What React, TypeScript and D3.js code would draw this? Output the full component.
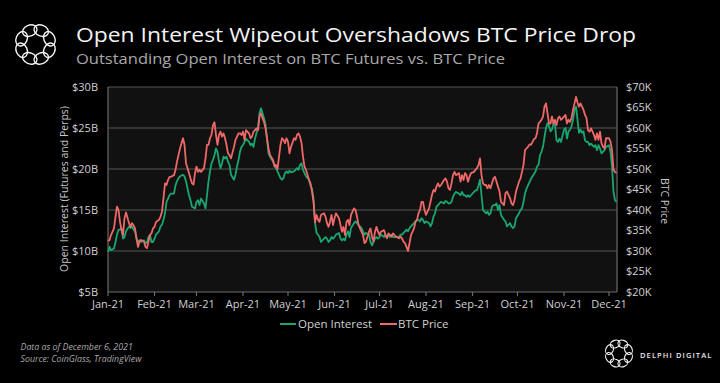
import React from "react";
import * as d3 from "d3";

// ---- Data ----
const dates: string[] = [
  // Jan
  "01-01","01-02","01-03","01-05","01-06","01-07","01-08","01-09","01-10","01-11","01-12","01-13","01-15","01-16","01-17","01-18","01-19","01-20","01-21","01-22","01-23","01-25","01-26","01-27","01-28","01-29","01-30","01-31",
  // Feb
  "02-01","02-02","02-04","02-05","02-06","02-07","02-08","02-09","02-10","02-11","02-12","02-14","02-15","02-16","02-17","02-18","02-19","02-20","02-21","02-22","02-24","02-25","02-26","02-27","02-28",
  // Mar
  "03-01","03-02","03-03","03-04","03-06","03-07","03-08","03-09","03-10","03-11","03-12","03-13","03-14","03-15","03-16","03-17","03-18","03-19","03-20","03-21","03-22","03-23","03-24","03-26","03-27","03-28","03-29","03-30","03-31",
  // Apr
  "04-01","04-02","04-03","04-05","04-06","04-07","04-08","04-09","04-10","04-11","04-12","04-13","04-14","04-15","04-16","04-17","04-18","04-19","04-21","04-22","04-23","04-24","04-26","04-27","04-28","04-29","04-30",
  // May
  "05-01","05-02","05-03","05-05","05-06","05-07","05-08","05-09","05-10","05-11","05-12","05-13","05-15","05-16","05-17","05-18","05-19","05-20","05-21","05-22","05-23","05-25","05-26","05-27","05-28","05-29","05-30","05-31",
  // Jun
  "06-01","06-02","06-04","06-05","06-06","06-07","06-08","06-09","06-10","06-11","06-12","06-14","06-15","06-16","06-17","06-18","06-19","06-20","06-21","06-22","06-24","06-25","06-26","06-27","06-28","06-29","06-30",
  // Jul
  "07-01","07-02","07-04","07-05","07-06","07-07","07-08","07-09","07-10","07-11","07-12","07-14","07-15","07-16","07-17","07-18","07-19","07-20","07-21","07-22","07-24","07-25","07-26","07-27","07-28","07-29","07-30","07-31",
  // Aug
  "08-01","08-03","08-04","08-05","08-06","08-07","08-08","08-09","08-10","08-11","08-13","08-14","08-15","08-16","08-17","08-18","08-19","08-20","08-21","08-23","08-24","08-25","08-26","08-27","08-28","08-29","08-30","08-31",
  // Sep
  "09-02","09-03","09-04","09-05","09-06","09-07","09-08","09-09","09-10","09-11","09-12","09-13","09-14","09-15","09-16","09-17","09-18","09-19","09-20","09-22","09-23","09-24","09-25","09-26","09-27","09-28","09-29","09-30",
  // Oct
  "10-02","10-03","10-04","10-05","10-06","10-07","10-08","10-09","10-10","10-12","10-13","10-14","10-15","10-16","10-17","10-18","10-19","10-20","10-21","10-22","10-23","10-24","10-25","10-26","10-27","10-28","10-29","10-30",
  // Nov
  "11-01","11-02","11-03","11-04","11-05","11-06","11-07","11-08","11-09","11-10","11-11","11-12","11-13","11-14","11-15","11-16","11-17","11-18","11-19","11-21","11-22","11-23","11-24","11-25","11-26","11-27","11-28","11-29",
  // Dec
  "12-01","12-02","12-03","12-04","12-05","12-06",
];

// Open interest, $B
const openInterest: number[] = [
  9.9,10.5,10.1,10.3,11.1,12.0,12.6,12.6,12.8,11.5,11.7,12.4,13.0,12.8,13.0,12.6,12.4,11.5,11.1,11.3,11.1,11.3,10.9,11.1,11.7,12.0,11.1,11.1,
  11.5,12.0,12.4,13.0,13.2,13.8,14.6,16.0,16.4,16.8,17.0,17.0,18.0,18.5,18.9,19.1,19.2,19.3,19.1,18.5,16.8,16.2,15.4,15.3,15.2,
  16.0,16.2,15.6,16.4,15.8,15.2,16.8,18.5,19.7,20.7,21.1,21.7,22.5,22.1,20.9,20.1,20.7,21.5,21.3,21.5,20.9,20.5,19.3,18.7,19.3,20.3,21.1,22.1,22.7,
  22.9,23.3,23.7,23.3,22.9,23.1,22.7,23.7,24.4,25.0,26.8,27.4,26.8,26.2,25.4,23.7,21.9,21.5,20.9,20.5,20.1,19.7,18.9,18.7,18.9,19.5,19.7,
  19.5,19.8,19.6,19.7,19.9,20.1,19.9,20.5,20.7,19.9,19.5,19.1,18.7,18.0,17.6,16.4,13.5,12.2,12.0,11.7,11.1,11.5,11.7,11.5,11.1,11.3,11.7,11.5,
  11.7,12.0,12.2,11.5,11.3,11.5,11.3,12.0,12.4,11.7,12.8,13.4,13.6,13.4,13.2,13.0,12.8,12.4,12.0,12.2,12.0,11.1,10.7,11.1,11.5,11.7,11.5,
  11.7,12.0,11.7,12.0,11.7,12.0,11.7,12.0,11.7,11.7,11.7,11.7,12.0,12.0,12.2,12.4,12.6,12.4,12.8,13.0,13.4,13.6,13.8,13.8,13.6,14.0,13.8,13.4,
  13.6,13.4,13.0,13.4,14.2,14.6,15.4,15.6,15.8,16.0,15.8,16.1,16.0,15.8,15.8,16.0,16.6,17.0,17.2,17.0,16.8,17.2,16.8,16.8,16.6,16.8,16.6,16.8,
  17.2,17.4,17.4,18.0,18.7,16.8,15.0,14.8,14.6,14.8,14.4,14.6,15.4,15.6,15.6,15.8,15.0,15.6,14.4,13.8,13.6,13.0,13.2,13.4,13.0,12.8,13.0,14.0,
  14.6,15.0,15.2,16.0,17.0,17.6,18.0,18.4,18.8,19.4,19.7,20.3,20.5,21.7,22.1,22.7,23.9,25.0,25.6,25.2,24.6,24.8,25.6,25.4,23.5,23.3,23.7,23.3,
  24.8,25.0,23.7,24.6,24.8,25.2,26.0,27.2,27.6,26.0,24.4,24.8,24.4,24.6,23.5,23.3,23.3,22.9,23.1,22.7,22.9,22.3,22.9,22.5,21.9,22.1,22.3,22.7,
  22.9,22.1,20.3,17.2,16.2,16.0,
];

// BTC price, $K
const btcPrice: number[] = [
  32.4,32.7,33.9,35.5,38.4,40.8,40.0,37.1,35.1,33.9,38.0,39.4,36.8,35.9,36.8,36.3,35.5,33.1,31.0,32.3,32.7,32.3,31.0,30.7,32.3,33.9,34.3,35.5,
  35.9,37.1,37.6,38.4,39.6,42.9,46.5,46.1,47.3,48.1,48.1,48.5,49.8,51.8,53.4,55.0,56.3,57.5,55.9,51.4,49.0,47.7,46.5,46.2,49.0,
  50.6,49.3,49.8,49.3,50.2,52.6,55.9,55.9,57.5,58.3,60.7,61.4,58.3,55.9,58.3,59.1,57.9,58.7,57.5,55.9,53.8,53.4,52.6,55.4,57.1,57.9,58.7,58.7,58.3,
  59.1,57.1,59.5,58.7,57.5,57.9,59.1,59.5,59.9,59.5,62.8,63.6,62.4,61.5,59.9,57.5,55.0,53.4,52.2,50.6,51.0,50.0,55.9,57.5,57.1,56.3,57.5,
  56.7,53.8,55.4,57.5,57.1,58.3,58.7,57.9,56.3,53.0,50.6,49.8,47.3,46.5,44.5,42.0,37.0,38.8,37.6,37.1,38.8,39.2,38.4,36.8,35.9,37.1,38.8,36.3,
  38.0,39.2,38.0,36.3,34.7,35.9,33.9,37.1,37.6,36.3,38.8,40.4,40.0,38.4,36.3,35.5,34.7,33.9,31.9,32.3,34.7,35.5,33.5,32.3,34.7,35.9,34.7,
  33.9,34.7,35.1,33.9,33.1,34.3,33.9,33.5,34.3,33.9,33.5,33.1,33.5,33.1,32.3,31.9,31.0,30.0,31.9,33.9,35.5,37.1,37.6,39.2,40.0,42.0,42.0,40.0,
  38.8,40.4,42.0,43.7,44.9,44.5,45.7,46.5,45.7,46.1,47.3,47.7,46.9,45.3,44.9,46.5,48.5,49.3,48.5,49.0,46.9,48.5,47.3,49.0,48.5,46.9,48.1,49.0,
  49.3,49.8,50.2,51.0,52.6,48.5,46.5,46.1,46.1,45.3,46.1,45.3,46.5,47.7,48.1,46.9,45.7,44.5,42.0,41.2,44.1,44.5,43.7,42.9,41.6,41.2,42.4,44.5,
  46.9,47.7,49.3,51.0,54.6,55.0,55.4,56.0,55.9,57.3,57.5,58.7,61.1,61.5,62.0,62.8,65.2,66.0,63.6,61.1,61.1,62.8,61.1,62.0,60.7,62.4,62.8,62.0,
  62.8,63.2,61.1,62.0,61.5,62.4,64.4,66.0,67.6,66.2,65.2,66.0,65.2,64.4,63.2,62.4,59.5,59.1,59.9,58.3,57.1,58.7,57.1,59.1,56.3,55.4,55.0,57.5,
  57.5,56.7,54.6,49.8,49.3,49.0,
];

const leftTicks: number[] = [5, 10, 15, 20, 25, 30];
const rightTicks: number[] = [20, 25, 30, 35, 40, 45, 50, 55, 60, 65, 70];
const xStart = "2021-01-01";
const xEnd = "2021-12-06";

const title = "Open Interest Wipeout Overshadows BTC Price Drop";
const subtitle = "Outstanding Open Interest on BTC Futures vs. BTC Price";
const leftAxisTitle = "Open Interest (Futures and Perps)";
const rightAxisTitle = "BTC Price";
const seriesNames = ["Open Interest", "BTC Price"];
const footnotes = ["Data as of December 6, 2021", "Source: CoinGlass, TradingView"];
const brand = "DELPHI DIGITAL";

const GREEN = "#1aa670";
const RED = "#f06868";
const FONT = "'Open Sans', 'Noto Sans', sans-serif";

function Logo({ cx, cy, s }: { cx: number; cy: number; s: number }) {
  const n = 8;
  const items = d3.range(n).map((i) => {
    const a = (i / n) * Math.PI * 2 + Math.PI / 8;
    return { x: cx + Math.cos(a) * 15 * s, y: cy + Math.sin(a) * 15 * s, deg: (a * 180) / Math.PI + 90 };
  });
  return (
    <g fill="none" stroke="#f2f2f2" strokeWidth={1.4 * Math.max(s, 0.8)}>
      {items.map((p, i) => (
        <ellipse key={i} cx={p.x} cy={p.y} rx={7.5 * s} ry={5.5 * s} transform={`rotate(${p.deg} ${p.x} ${p.y})`} />
      ))}
    </g>
  );
}

export default function App() {
  const W = 720, H = 383;
  const left = 108, right = 617, top = 87, bottom = 292;
  const parse = d3.timeParse("%Y-%m-%d");
  const d0 = parse(xStart)!, d1 = parse(xEnd)!;
  const x = d3.scaleTime().domain([d0, d1]).range([left, left + 339 * 1.5]);
  const yL = d3.scaleLinear().domain([5, 30]).range([bottom, top]);
  const yR = d3.scaleLinear().domain([20, 70]).range([bottom, top]);

  const pts = dates.map((s, i) => ({ d: parse("2021-" + s)!, oi: openInterest[i], p: btcPrice[i] }));
  const oiLine = d3.line<any>().x((d) => x(d.d)).y((d) => yL(d.oi))(pts) || "";
  const pLine = d3.line<any>().x((d) => x(d.d)).y((d) => yR(d.p))(pts) || "";
  const months = d3.timeMonth.range(d0, d3.timeDay.offset(d1, 1));
  const fmt = d3.timeFormat("%b-%y");

  return (
    <svg width={W} height={H} style={{ position: "absolute", left: 0, top: 0, display: "block", background: "#000" }} fontFamily={FONT}>
      <rect x={0} y={0} width={W} height={H} fill="#000" />
      <Logo cx={35.5} cy={44.5} s={1} />
      <text x={76} y={42} fill="#f4f4f4" fontSize={20.5} textLength={560} lengthAdjust="spacingAndGlyphs">{title}</text>
      <text x={76} y={64} fill="#a8a8a8" fontSize={15} textLength={429} lengthAdjust="spacingAndGlyphs">{subtitle}</text>

      <rect x={left} y={top} width={right - left} height={bottom - top} fill="#111" />
      {leftTicks.slice(1).map((t) => (
        <line key={t} x1={left} x2={right} y1={yL(t)} y2={yL(t)} stroke="#565656" strokeWidth={1.2} />
      ))}
      <line x1={left} x2={left} y1={top} y2={bottom} stroke="#6a6a6a" strokeWidth={1.2} />
      <line x1={right} x2={right} y1={top} y2={bottom} stroke="#6a6a6a" strokeWidth={1.2} />
      <line x1={left} x2={right} y1={bottom} y2={bottom} stroke="#6a6a6a" strokeWidth={1.2} />
      {months.map((m, i) => (
        <g key={i}>
          <line x1={x(m)} x2={x(m)} y1={bottom} y2={bottom + 4} stroke="#6a6a6a" strokeWidth={1.2} />
          <text x={x(m)} y={308} fill="#d0d0d0" fontSize={11} textAnchor="middle">{fmt(m)}</text>
        </g>
      ))}
      {leftTicks.map((t) => (
        <text key={t} x={98} y={yL(t)} dy="0.35em" fill="#d0d0d0" fontSize={11} textAnchor="end">{`$${t}B`}</text>
      ))}
      {rightTicks.map((t) => (
        <text key={t} x={626} y={yR(t)} dy="0.35em" fill="#d0d0d0" fontSize={11} textAnchor="start">{`$${t}K`}</text>
      ))}
      <text transform={`translate(68,189) rotate(-90)`} fill="#c8c8c8" fontSize={10.5} textAnchor="middle">{leftAxisTitle}</text>
      <text transform={`translate(661,201) rotate(90)`} fill="#c8c8c8" fontSize={10.5} textAnchor="middle">{rightAxisTitle}</text>

      <path d={oiLine} fill="none" stroke={GREEN} strokeWidth={1.8} strokeLinejoin="round" />
      <path d={pLine} fill="none" stroke={RED} strokeWidth={1.8} strokeLinejoin="round" />

      <line x1={280} x2={296} y1={324} y2={324} stroke={GREEN} strokeWidth={2} />
      <text x={298} y={328} fill="#d0d0d0" fontSize={11.5}>{seriesNames[0]}</text>
      <line x1={380} x2={397} y1={324} y2={324} stroke={RED} strokeWidth={2} />
      <text x={398} y={328} fill="#d0d0d0" fontSize={11.5}>{seriesNames[1]}</text>

      <text x={20.5} y={350} fill="#a8a8a8" fontSize={8.8} fontStyle="italic">{footnotes[0]}</text>
      <text x={20.5} y={362} fill="#a8a8a8" fontSize={8.8} fontStyle="italic">{footnotes[1]}</text>

      <Logo cx={619} cy={353.5} s={0.68} />
      <text x={640} y={358} fill="#e8e8e8" fontSize={7.5} fontWeight={600} letterSpacing={1.1}>{brand}</text>
    </svg>
  );
}
